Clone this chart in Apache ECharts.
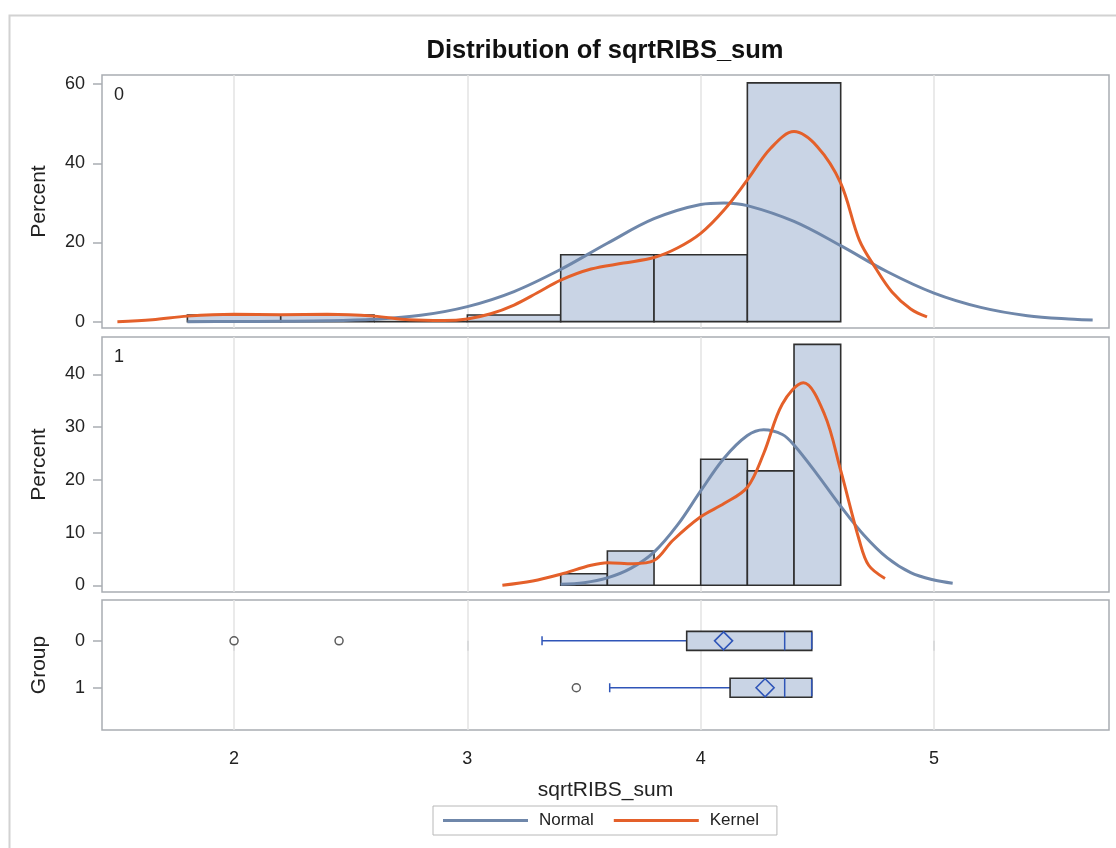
<!DOCTYPE html>
<html>
<head>
<meta charset="utf-8">
<script src="https://cdn.jsdelivr.net/npm/echarts@6/dist/echarts.min.js"></script>
<style>
  html, body { margin: 0; padding: 0; background: #fff; }
  #chart { width: 1116px; height: 848px; }
</style>
</head>
<body>
<div id="chart"></div>
<script>
// histogram bins (percent) for each group
const binEdges0 = [1.8, 2.2, 2.6, 3.0, 3.4, 3.8, 4.2, 4.6]
const pct0 = [1.7, 1.7, 0, 1.7, 16.9, 16.9, 60.3]
const binEdges1 = [3.4, 3.6, 3.8, 4.0, 4.2, 4.4, 4.6]
const pct1 = [2.2, 6.5, 0, 23.9, 21.7, 45.7]

// fitted curves
const normal0X = [1.8, 2.0, 2.2, 2.4, 2.6, 2.8, 3.0, 3.2, 3.4, 3.6, 3.8, 4.0, 4.1, 4.2, 4.4, 4.6, 4.8, 5.0, 5.2, 5.4, 5.6, 5.68]
const normal0Y = [0, 0.05, 0.1, 0.2, 0.6, 1.6, 3.8, 7.6, 13.2, 19.8, 26.0, 29.6, 30.0, 29.3, 25.3, 19.2, 12.6, 7.2, 3.6, 1.5, 0.6, 0.4]
const kernel0X = [1.5, 1.65, 1.8, 2.0, 2.2, 2.4, 2.6, 2.75, 2.9, 3.0, 3.1, 3.2, 3.3, 3.4, 3.53, 3.67, 3.8, 3.9, 4.0, 4.1, 4.2, 4.3, 4.4, 4.5, 4.6, 4.68, 4.75, 4.82, 4.9, 4.97]
const kernel0Y = [0, 0.5, 1.4, 1.85, 1.75, 1.85, 1.4, 0.5, 0.3, 0.7, 2.0, 4.2, 7.3, 10.5, 13.3, 14.8, 16.2, 18.6, 22.3, 28.2, 35.8, 43.8, 48.0, 44.2, 35.0, 20.6, 13.5, 7.5, 3.2, 1.2]
const normal1X = [3.4, 3.5, 3.6, 3.7, 3.8, 3.9, 4.0, 4.1, 4.2, 4.27, 4.35, 4.4, 4.5, 4.6, 4.7, 4.8, 4.9, 5.0, 5.08]
const normal1Y = [0.2, 0.5, 1.4, 3.2, 6.3, 11.4, 17.9, 24.1, 28.4, 29.5, 28.6, 26.6, 21.0, 15.0, 9.5, 5.2, 2.4, 1.0, 0.4]
const kernel1X = [3.15, 3.28, 3.4, 3.53, 3.6, 3.71, 3.8, 3.88, 4.0, 4.1, 4.2, 4.27, 4.35, 4.44, 4.53, 4.6, 4.68, 4.72, 4.79]
const kernel1Y = [0, 0.8, 2.1, 3.8, 4.3, 4.1, 4.7, 8.5, 13.0, 15.5, 18.6, 25.0, 34.4, 38.4, 32.5, 21.8, 8.5, 3.8, 1.3]

// box plot stats per group
const boxGroups = [0, 1]
const boxMin = [3.32, 3.61]
const boxQ1 = [3.94, 4.126]
const boxMedian = [4.36, 4.36]
const boxQ3 = [4.476, 4.476]
const boxMax = [4.476, 4.476]
const boxMean = [4.098, 4.276]
const outlierX = [2.0, 2.45, 3.467]
const outlierGroup = [0, 0, 1]

const xTicks = [2, 3, 4, 5]

const FONT = 'Liberation Sans'
const BAR_FILL = '#c9d4e5'
const BAR_EDGE = '#2f2f2f'
const NORMAL_COLOR = '#6f87aa'
const KERNEL_COLOR = '#e4602a'
const BOX_BLUE = '#2f55b8'
const FRAME = '#a9adb2'
const GRIDLINE = '#e3e3e3'

const zip = (xs, ys) => xs.map((x, i) => [x, ys[i]])
const bins = (edges, pct) => pct.map((v, i) => [edges[i], edges[i + 1], v])

function renderBar(params, api) {
  const p0 = api.coord([api.value(0), 0])
  const p1 = api.coord([api.value(1), api.value(2)])
  return {
    type: 'rect',
    shape: { x: p0[0], y: p1[1], width: p1[0] - p0[0], height: p0[1] - p1[1] },
    style: { fill: BAR_FILL, stroke: BAR_EDGE, lineWidth: 1.6 }
  }
}

function renderBox(params, api) {
  const g = api.value(0)
  const half = 9.5
  const cap = 4.5
  const pMin = api.coord([api.value(1), g])
  const pQ1 = api.coord([api.value(2), g])
  const pMed = api.coord([api.value(3), g])
  const pQ3 = api.coord([api.value(4), g])
  const pMax = api.coord([api.value(5), g])
  const pMean = api.coord([api.value(6), g])
  const y = pMin[1]
  const blue = { stroke: BOX_BLUE, lineWidth: 1.5 }
  return {
    type: 'group',
    children: [
      { type: 'line', shape: { x1: pMin[0], y1: y, x2: pQ1[0], y2: y }, style: blue },
      { type: 'line', shape: { x1: pMin[0], y1: y - cap, x2: pMin[0], y2: y + cap }, style: blue },
      { type: 'line', shape: { x1: pQ3[0], y1: y, x2: pMax[0], y2: y }, style: blue },
      {
        type: 'rect',
        shape: { x: pQ1[0], y: y - half, width: pQ3[0] - pQ1[0], height: half * 2 },
        style: { fill: BAR_FILL, stroke: BAR_EDGE, lineWidth: 1.6 }
      },
      { type: 'line', shape: { x1: pMed[0], y1: y - half, x2: pMed[0], y2: y + half }, style: blue },
      { type: 'line', shape: { x1: pMax[0], y1: y - half + 1, x2: pMax[0], y2: y + half - 1 }, style: blue },
      {
        type: 'polygon',
        shape: { points: [[pMean[0], y - 9], [pMean[0] + 9, y], [pMean[0], y + 9], [pMean[0] - 9, y]] },
        style: { fill: 'none', stroke: BOX_BLUE, lineWidth: 1.6 }
      }
    ]
  }
}

const grids = [
  { left: 102, top: 75, width: 1007, height: 253 },
  { left: 102, top: 337, width: 1007, height: 255 },
  { left: 102, top: 600, width: 1007, height: 130 }
].map(g => Object.assign(g, { show: true, borderColor: FRAME, borderWidth: 1.5, backgroundColor: '#fff' }))

const axisText = { color: '#222', fontFamily: FONT, fontSize: 18 }

function xAxis(i, last) {
  return {
    type: 'value',
    gridIndex: i,
    min: 1.434,
    max: 5.75,
    axisLine: { show: false },
    axisTick: { show: last, customValues: xTicks, length: 10, lineStyle: { color: FRAME, width: 1.5 } },
    axisLabel: { show: last, customValues: xTicks, margin: 20, ...axisText },
    splitLine: { show: !last, lineStyle: { color: GRIDLINE, width: 1.5 } },
    name: last ? 'sqrtRIBS_sum' : '',
    nameLocation: 'middle',
    nameGap: 50,
    nameTextStyle: { color: '#222', fontFamily: FONT, fontSize: 21 }
  }
}

function yAxis(i, name, min, max, ticks, inverse) {
  return {
    type: 'value',
    gridIndex: i,
    min: min,
    max: max,
    inverse: !!inverse,
    axisLine: { show: false },
    axisTick: { show: true, customValues: ticks, length: 9, lineStyle: { color: FRAME, width: 1.5 } },
    axisLabel: { customValues: ticks, margin: 17, ...axisText },
    splitLine: { show: false },
    name: name,
    nameLocation: 'middle',
    nameGap: 52,
    nameTextStyle: { color: '#222', fontFamily: FONT, fontSize: 21 }
  }
}

const lineSeries = (name, data, color, idx) => ({
  name: name,
  type: 'line',
  xAxisIndex: idx,
  yAxisIndex: idx,
  data: data,
  smooth: 0.35,
  showSymbol: false,
  symbol: 'none',
  lineStyle: { color: color, width: 3 },
  itemStyle: { color: color },
  z: name === 'Kernel' ? 4 : 3,
  animation: false
})

const chart = echarts.init(document.getElementById('chart'))
chart.setOption({
  animation: false,
  backgroundColor: '#fff',
  title: {
    text: 'Distribution of sqrtRIBS_sum',
    left: 600,
    textAlign: 'center',
    top: 33,
    textStyle: { fontFamily: FONT, fontSize: 25.5, fontWeight: 'bold', color: '#111' }
  },
  graphic: [
    { type: 'rect', left: 7, top: 13, shape: { width: 1300, height: 1000 }, style: { fill: 'none', stroke: '#d2d2d2', lineWidth: 2 }, z: -10 },
    { type: 'text', left: 114, top: 86, style: { text: '0', fontFamily: FONT, fontSize: 18, fill: '#222' } },
    { type: 'text', left: 114, top: 348, style: { text: '1', fontFamily: FONT, fontSize: 18, fill: '#222' } }
  ],
  legend: {
    left: 433,
    top: 806,
    data: ['Normal', 'Kernel'],
    icon: 'rect',
    itemWidth: 85,
    itemHeight: 3,
    itemGap: 20,
    padding: [6, 18, 6, 10],
    borderColor: '#b8b8b8',
    borderWidth: 1,
    textStyle: { fontFamily: FONT, fontSize: 17, color: '#222', padding: [0, 0, 0, 6] }
  },
  grid: grids,
  xAxis: [xAxis(0, false), xAxis(1, false), xAxis(2, true)],
  yAxis: [
    yAxis(0, 'Percent', -1.6, 62.3, [0, 20, 40, 60]),
    yAxis(1, 'Percent', -1.27, 47.1, [0, 10, 20, 30, 40]),
    yAxis(2, 'Group', -0.87, 1.9, boxGroups, true)
  ],
  series: [
    { type: 'custom', xAxisIndex: 0, yAxisIndex: 0, renderItem: renderBar, data: bins(binEdges0, pct0), z: 2 },
    { type: 'custom', xAxisIndex: 1, yAxisIndex: 1, renderItem: renderBar, data: bins(binEdges1, pct1), z: 2 },
    lineSeries('Normal', zip(normal0X, normal0Y), NORMAL_COLOR, 0),
    lineSeries('Kernel', zip(kernel0X, kernel0Y), KERNEL_COLOR, 0),
    lineSeries('Normal', zip(normal1X, normal1Y), NORMAL_COLOR, 1),
    lineSeries('Kernel', zip(kernel1X, kernel1Y), KERNEL_COLOR, 1),
    {
      type: 'custom',
      xAxisIndex: 2,
      yAxisIndex: 2,
      renderItem: renderBox,
      data: boxGroups.map((g, i) => [g, boxMin[i], boxQ1[i], boxMedian[i], boxQ3[i], boxMax[i], boxMean[i]]),
      z: 2
    },
    {
      type: 'scatter',
      xAxisIndex: 2,
      yAxisIndex: 2,
      data: zip(outlierX, outlierGroup),
      symbol: 'circle',
      symbolSize: 8,
      itemStyle: { color: '#fff', borderColor: '#333', borderWidth: 1.5 },
      z: 3,
      markLine: {
        silent: true,
        symbol: 'none',
        label: { show: false },
        lineStyle: { color: GRIDLINE, width: 1.5, type: 'solid' },
        data: xTicks.map(v => ({ xAxis: v })),
        z: 1
      }
    }
  ]
})
</script>
</body>
</html>
